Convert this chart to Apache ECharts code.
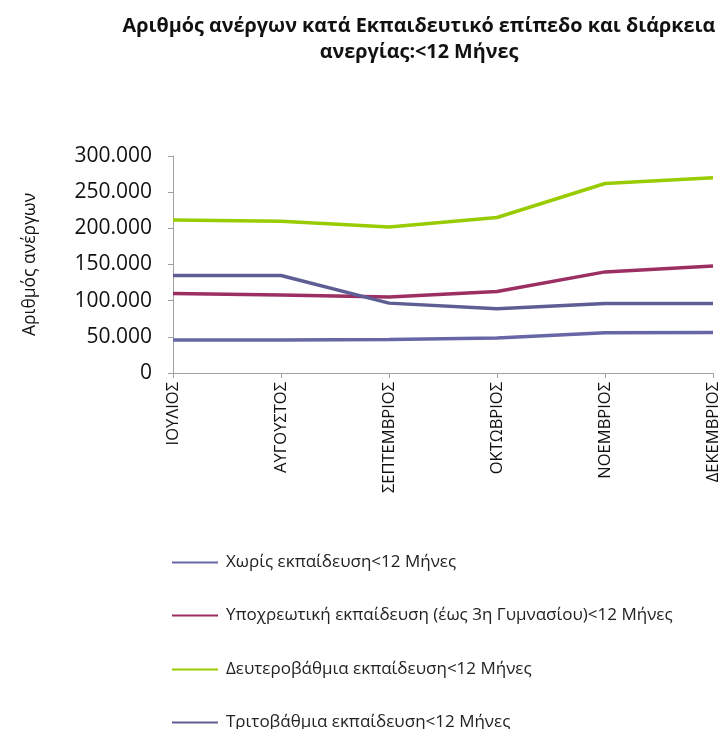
<!DOCTYPE html>
<html>
<head>
<meta charset="utf-8">
<script src="https://cdn.jsdelivr.net/npm/echarts@6/dist/echarts.min.js"></script>
<style>html,body{margin:0;padding:0;background:#fff;}#c{width:725px;height:729px;}</style>
</head>
<body>
<div id="c"></div>
<script>
var months = ['ΙΟΥΛΙΟΣ','ΑΥΓΟΥΣΤΟΣ','ΣΕΠΤΕΜΒΡΙΟΣ','ΟΚΤΩΒΡΙΟΣ','ΝΟΕΜΒΡΙΟΣ','ΔΕΚΕΜΒΡΙΟΣ'];
var seriesNames = [
  'Χωρίς εκπαίδευση<12 Μήνες',
  'Υποχρεωτική εκπαίδευση (έως 3η Γυμνασίου)<12 Μήνες',
  'Δευτεροβάθμια εκπαίδευση<12 Μήνες',
  'Τριτοβάθμια εκπαίδευση<12 Μήνες'
];
var noEducation = [45500, 45500, 46400, 48300, 55600, 56000];
var compulsory = [109900, 108000, 104900, 112700, 139800, 148000];
var secondary = [211600, 209800, 202000, 215000, 262000, 270000];
var tertiary = [134800, 134800, 96600, 88800, 96000, 96000];
var yTicks = [0, 50000, 100000, 150000, 200000, 250000, 300000];

var colors = ['#6767A8', '#9C2F62', '#99CC00', '#5E5E94'];
var dataList = [noEducation, compulsory, secondary, tertiary];

function fmt(v){ return String(v).replace(/\B(?=(\d{3})+(?!\d))/g, '.'); }

var FONT = 'Open Sans, Noto Sans, sans-serif';
var chart = echarts.init(document.getElementById('c'));
var legendTops = [554, 607, 661, 714];
var legends = seriesNames.map(function(n, i){
  return {
    data: [n], left: 172, top: legendTops[i], orient: 'vertical', padding: 0,
    icon: 'rect', itemWidth: 46, itemHeight: 2, itemGap: 0,
    selectedMode: false,
    textStyle: {fontFamily: FONT, fontSize: 17, color: '#222', padding: [0,0,0,3]}
  };
});
chart.setOption({
  backgroundColor: '#fff',
  animation: false,
  color: colors,
  title: {
    text: 'Αριθμός ανέργων κατά Εκπαιδευτικό επίπεδο και διάρκεια\nανεργίας:<12 Μήνες',
    left: 414, textAlign: 'center', top: 8,
    textStyle: {fontFamily: FONT, fontSize: 19.8, fontWeight: 'bold', color: '#111', lineHeight: 26}
  },
  legend: legends,
  grid: {left: 173, right: 12, top: 156, bottom: 356, containLabel: false},
  xAxis: {
    type: 'category', data: months, boundaryGap: false,
    axisLine: {lineStyle: {color: '#A0A0A0', width: 1}},
    axisTick: {show: true, alignWithLabel: true, length: 5, lineStyle: {color: '#A0A0A0'}},
    axisLabel: {rotate: 90, fontFamily: FONT, fontSize: 16.5, color: '#111', margin: 9, interval: 0}
  },
  yAxis: {
    type: 'value', min: 0, max: 300000, interval: 50000,
    name: 'Αριθμός ανέργων', nameLocation: 'middle', nameGap: 134, nameRotate: 90,
    nameTextStyle: {fontFamily: FONT, fontSize: 17.5, color: '#111'},
    axisLine: {show: true, lineStyle: {color: '#A0A0A0', width: 1}},
    axisTick: {show: true, length: 5, lineStyle: {color: '#A0A0A0'}},
    splitLine: {show: false},
    axisLabel: {fontFamily: FONT, fontSize: 21, color: '#111', margin: 21,
      formatter: function(v){ return yTicks.indexOf(v) >= 0 ? fmt(v) : ''; }}
  },
  series: seriesNames.map(function(n, i){
    return {
      name: n, type: 'line', data: dataList[i], showSymbol: false, symbol: 'none',
      lineStyle: {width: 3.5, color: colors[i]}, itemStyle: {color: colors[i]}
    };
  })
});
</script>
</body>
</html>
